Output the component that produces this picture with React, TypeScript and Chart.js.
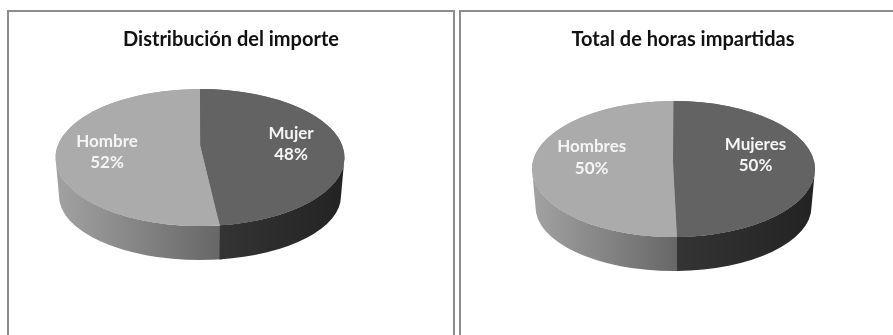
import React, { useEffect, useRef } from "react";
import { Chart, registerables } from "chart.js";

Chart.register(...registerables);

const leftTitle = "Distribución del importe";
const leftCategories = ["Mujer", "Hombre"];
const leftValues = [47.8, 52.2];

const rightTitle = "Total de horas impartidas";
const rightCategories = ["Mujeres", "Hombres"];
const rightValues = [49.6, 50.4];

const topColors = ["#636363", "#ababab"];
const wallStops = [
  ["#232323", "#343434"],
  ["#a2a2a2", "#666666"],
];

const leftShape = {
  cx: 193, cy: 147.5, rx: 144.5, ry: 68.5,
  lowCy: 186, lowRx: 141, lowRy: 64,
  apexDx: 0.5, apexDy: -12,
  labelPos: [[284, 123.5], [100, 131.5]],
};
const rightShape = {
  cx: 214.5, cy: 159, rx: 141.5, ry: 68,
  lowCy: 197, lowRx: 138, lowRy: 64,
  apexDx: -0.5, apexDy: -8,
  labelPos: [[296.5, 134.5], [132.7, 137]],
};

const pie3d = {
  id: "pie3d",
  beforeDatasetDraw(chart: any, args: any, opts: any) {
    const { ctx } = chart;
    const els = args.meta.data;
    const { cx, cy, rx, ry, lowCy, lowRx, lowRy } = opts;
    // Paint from the last slice back to the first, overlapping the seam so no light line shows.
    for (let i = els.length - 1; i >= 0; i--) {
      const el = els[i];
      const s = Math.max(el.startAngle - (i > 0 ? 0.02 : 0), 0);
      const e = Math.min(el.endAngle, Math.PI);
      if (e <= s) continue;
      const x0 = cx + rx * Math.cos(e);
      const x1 = cx + rx * Math.cos(s);
      const g = ctx.createLinearGradient(x0, 0, x1, 0);
      g.addColorStop(0, wallStops[i][i === 0 ? 1 : 0]);
      g.addColorStop(1, wallStops[i][i === 0 ? 0 : 1]);
      ctx.beginPath();
      ctx.ellipse(cx, cy, rx, ry, 0, s, e, false);
      ctx.ellipse(cx, lowCy, lowRx, lowRy, 0, e, s, true);
      ctx.closePath();
      ctx.fillStyle = g;
      ctx.fill();
    }
    const R = els[0].outerRadius;
    ctx.save();
    ctx.translate(cx, cy);
    ctx.scale(rx / R, ry / R);
    ctx.translate(-els[0].x, -els[0].y);
  },
  afterDatasetDraw(chart: any, args: any, opts: any) {
    const { ctx } = chart;
    ctx.restore();
    const { cx, cy, rx, ry, apexDx, apexDy, labelPos } = opts;
    const els = args.meta.data;
    for (let i = els.length - 1; i >= 0; i--) {
      const el = els[i];
      ctx.beginPath();
      ctx.moveTo(cx + apexDx, cy + apexDy);
      ctx.ellipse(cx, cy, rx, ry, 0, el.startAngle, el.endAngle, false);
      ctx.closePath();
      ctx.fillStyle = el.options.backgroundColor;
      ctx.fill();
    }
    const values: number[] = chart.data.datasets[0].data;
    const total = values.reduce((a, b) => a + b, 0);
    ctx.save();
    ctx.fillStyle = "#f5f5f5";
    ctx.font = "bold 17px Lato";
    ctx.textAlign = "center";
    ctx.textBaseline = "middle";
    values.forEach((v, i) => {
      const [x, y] = labelPos[i];
      ctx.fillText(String(chart.data.labels[i]), x, y);
      ctx.fillText(Math.round((v / total) * 100) + "%", x, y + 21.5);
    });
    ctx.restore();
  },
};

function Panel({ left, title, labels, values, shape }: any) {
  const ref = useRef<HTMLCanvasElement>(null);
  useEffect(() => {
    const chart = new Chart(ref.current as HTMLCanvasElement, {
      type: "pie",
      data: {
        labels,
        datasets: [{ data: values, backgroundColor: topColors, borderWidth: 0, clip: false } as any],
      },
      options: {
        animation: false,
        responsive: false,
        layout: { padding: 0 },
        plugins: {
          legend: { display: false },
          tooltip: { enabled: false },
          title: {
            display: true,
            text: title,
            color: "#111111",
            font: { family: "Lato", size: 20, weight: "bold" },
            padding: { top: 18, bottom: 10 },
          },
          pie3d: shape,
        } as any,
      },
      plugins: [pie3d],
    });
    return () => chart.destroy();
  }, []);
  return (
    <>
      <div
        style={{
          position: "absolute",
          left,
          top: 10,
          width: 448,
          height: 400,
          boxSizing: "border-box",
          border: "2px solid #8c8c8c",
        }}
      />
      <canvas
        ref={ref}
        width={448}
        height={325}
        style={{ position: "absolute", left, top: 10, width: 448, height: 325, filter: "blur(0.4px)" }}
      />
    </>
  );
}

export default function App() {
  return (
    <div style={{ position: "fixed", left: 0, top: 0, width: 893, height: 335, overflow: "hidden", background: "#fff" }}>
      <Panel left={7} title={leftTitle} labels={leftCategories} values={leftValues} shape={leftShape} />
      <Panel left={459} title={rightTitle} labels={rightCategories} values={rightValues} shape={rightShape} />
    </div>
  );
}
